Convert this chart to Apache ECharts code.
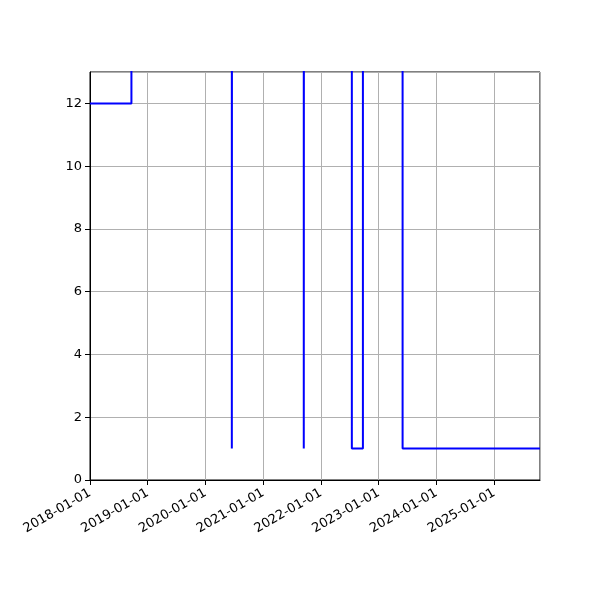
<!DOCTYPE html>
<html><head><meta charset="utf-8">
<script src="https://cdn.jsdelivr.net/npm/echarts@6/dist/echarts.min.js"></script>
<style>html,body{margin:0;padding:0;background:#fff}#c{width:600px;height:600px}</style>
</head><body><div id="c"></div>
<script>
const dates = ['2018-01-01','2018-09-20','2020-06-16','2020-06-17','2021-09-14','2021-09-15','2022-07-15','2022-09-23','2023-06-01','2025-10-17'];
const values = [12, 20, 1, 20, 1, 20, 1, 20, 1, 1];
const xMin = '2018-01-01', xMax = '2025-10-17';
const yTicks = [0, 2, 4, 6, 8, 10, 12];

const chart = echarts.init(document.getElementById('c'));
const DAY = 24*3600*1000;
chart.setOption({
  animation: false,
  grid: {left: 90, right: 60, top: 72, bottom: 120, show: true, borderColor: '#000', borderWidth: 1, backgroundColor: 'transparent'},
  xAxis: {
    type: 'time', min: xMin, max: xMax,
    minInterval: 360*DAY, maxInterval: 370*DAY,
    axisLine: {lineStyle: {color: '#000', width: 1}},
    axisTick: {show: true, length: 5, lineStyle: {color: '#000'}},
    splitLine: {show: true, lineStyle: {color: '#b0b0b0', width: 1}},
    axisLabel: {rotate: 30, color: '#000', fontFamily: 'DejaVu Sans', fontSize: 13, margin: 12,
      formatter: '{yyyy}-{MM}-{dd}', showMinLabel: true, showMaxLabel: false, hideOverlap: false}
  },
  yAxis: {
    type: 'value', min: 0, max: 13, interval: 2,
    axisLine: {show: true, lineStyle: {color: '#000', width: 1}},
    axisTick: {show: true, length: 5, lineStyle: {color: '#000'}},
    splitLine: {show: true, lineStyle: {color: '#b0b0b0', width: 1}},
    axisLabel: {color: '#000', fontFamily: 'DejaVu Sans', fontSize: 13, margin: 8, showMaxLabel: false,
      formatter: v => yTicks.includes(v) ? String(v) : ''}
  },
  series: [{
    type: 'line', step: 'end', showSymbol: false, clip: true,
    lineStyle: {color: '#0000ff', width: 2},
    data: dates.map((d, i) => [d, values[i]])
  }]
});
</script></body></html>
